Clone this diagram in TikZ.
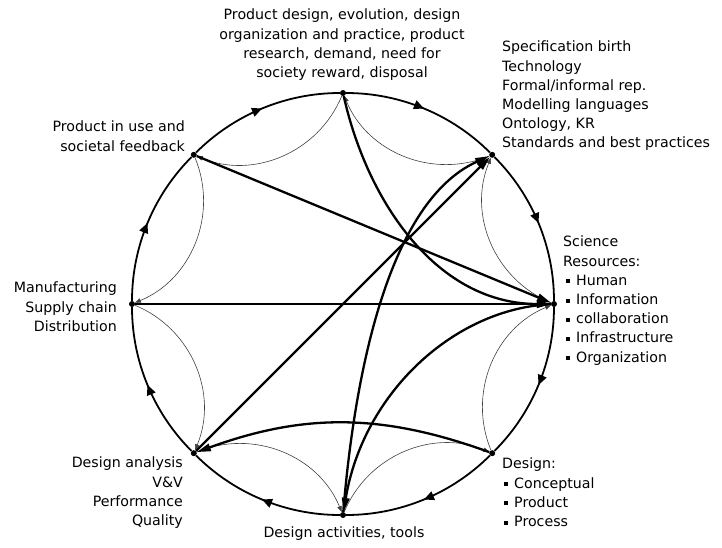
\documentclass[tikz,border=0pt]{standalone}
\usepackage{fontspec}
\setmainfont{DejaVu Sans}
\usetikzlibrary{arrows.meta,decorations.markings}
\newcommand{\sqbul}{\rule[2pt]{4pt}{4pt}\hspace{6pt}}
\begin{document}
\begin{tikzpicture}[x=1pt,y=1pt,
  font=\fontsize{14.2}{19.2}\selectfont,
  dot/.style={circle,fill=black,inner sep=0pt,minimum size=6pt},
  lbl/.style={inner sep=0pt},
  outerarc/.style={line width=1.8pt, bend left=22.5, looseness=0.886,
    postaction={decorate},
    decoration={markings, mark=at position 0.5 with {\arrow{Triangle[length=10pt,width=9pt]}}}},
  thinarc/.style={line width=0.6pt, draw=black!75, bend left=45, -{Triangle[length=6pt,width=4.5pt]}},
  bigarrow/.style={line width=2.3pt, -{Triangle[length=14pt,width=7.5pt]}},
]
\useasboundingbox (-343,-243) rectangle (379,304);
% nodes on the circle
\node[dot] (t)  at (90:211) {};
\node[dot] (ur) at (45:211) {};
\node[dot] (r)  at (0:211) {};
\node[dot] (lr) at (-45:211) {};
\node[dot] (b)  at (-90:211) {};
\node[dot] (ll) at (-135:211) {};
\node[dot] (l)  at (180:211) {};
\node[dot] (ul) at (135:211) {};
% outer circle, clockwise
\draw[outerarc] (t) to (ur);
\draw[outerarc] (ur) to (r);
\draw[outerarc] (r) to (lr);
\draw[outerarc] (lr) to (b);
\draw[outerarc] (b) to (ll);
\draw[outerarc] (ll) to (l);
\draw[outerarc] (l) to (ul);
\draw[outerarc] (ul) to (t);
% inner thin arcs, counter-clockwise
\draw[thinarc] (t) to (ul);
\draw[thinarc] (ul) to (l);
\draw[thinarc] (l) to (ll);
\draw[thinarc] (ll) to (b);
\draw[thinarc] (b) to (lr);
\draw[thinarc] (lr) to (r);
\draw[thinarc] (r) to (ur);
\draw[thinarc] (ur) to (t);
% thick connectors
\draw[bigarrow] (ul) -- (r);
\draw[bigarrow] (l) -- (r);
\draw[bigarrow] (t) .. controls (25,100) and (95,0) .. (r);
\draw[bigarrow] (b) .. controls (10,-90) and (40,100) .. (ur);
\draw[bigarrow] (ll) -- (ur);
\draw[bigarrow] (r) .. controls (110,-5) and (20,-90) .. (b);
\draw[bigarrow] (lr) to[bend right=20] (ll);
% labels
\node[lbl, anchor=north, align=center] (tt) at (-1,295) {Product design, evolution, design\\organization and practice, product\\research, demand, need for\\society reward, disposal};
\node[lbl, anchor=north west, align=left] (urt) at (159,263) {Specification birth\\Technology\\Formal/informal rep.\\Modelling languages\\Ontology, KR\\Standards and best practices};
\node[lbl, anchor=north west, align=left] (rt) at (220,68) {Science\\Resources:\\\hspace*{3pt}\sqbul Human\\\hspace*{3pt}\sqbul Information\\\hspace*{3pt}\sqbul collaboration\\\hspace*{3pt}\sqbul Infrastructure\\\hspace*{3pt}\sqbul Organization};
\node[lbl, anchor=north west, align=left] (lrt) at (159,-154) {Design:\\\hspace*{2pt}\sqbul Conceptual\\\hspace*{2pt}\sqbul Product\\\hspace*{2pt}\sqbul Process};
\node[lbl, anchor=north] (bt) at (1,-223) {Design activities, tools};
\node[lbl, anchor=north east, align=right] (llt) at (-160,-153) {Design analysis\\V\&V\\Performance\\Quality};
\node[lbl, anchor=north east, align=right] (lt) at (-226,22) {Manufacturing\\Supply chain\\Distribution};
\node[lbl, anchor=north east, align=right] (ult) at (-158,183) {Product in use and\\societal feedback};
\end{tikzpicture}
\end{document}
